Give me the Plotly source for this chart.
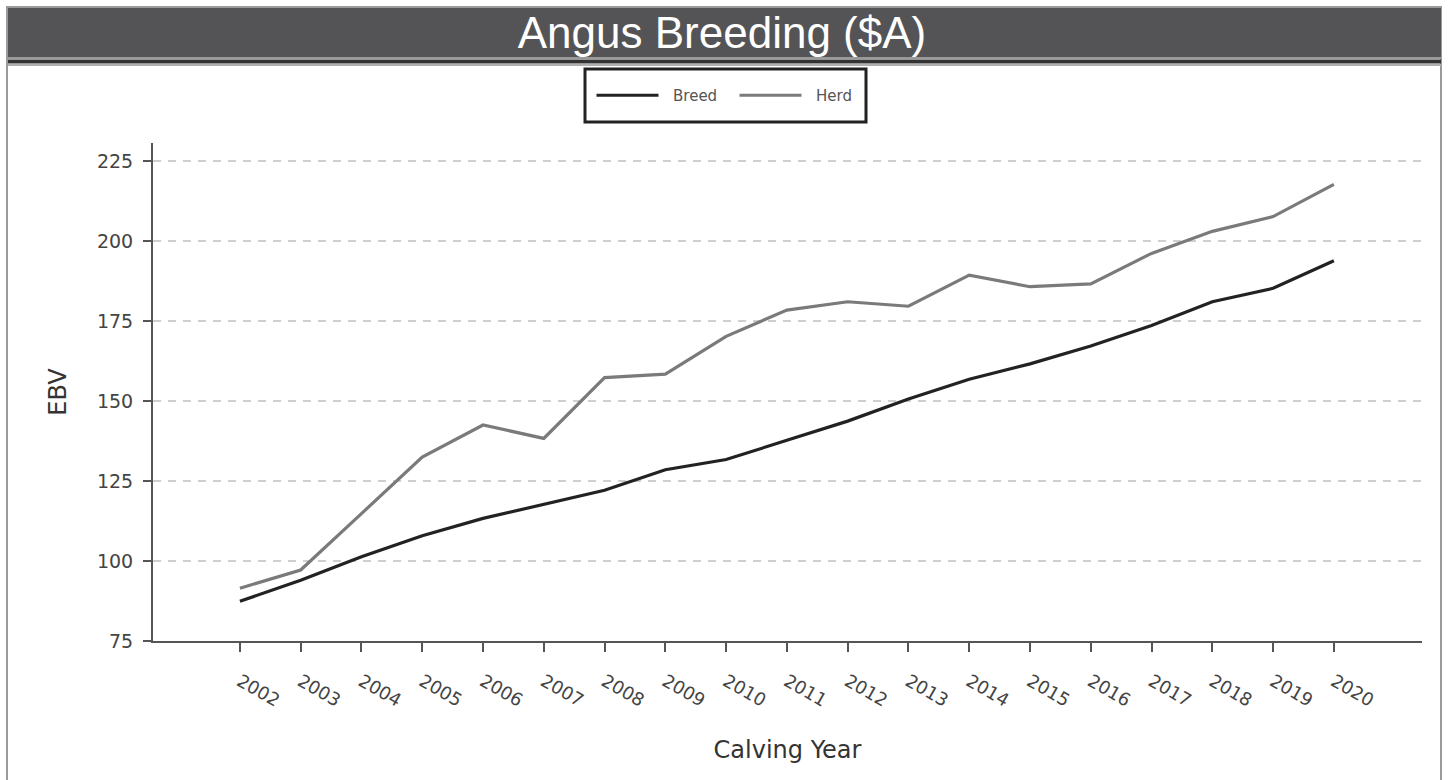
import plotly.graph_objects as go

years = list(range(2002, 2021))
breed = [87.4, 94.0, 101.3, 107.9, 113.3, 117.6, 122.1, 128.5, 131.7, 137.7,
         143.7, 150.6, 156.8, 161.6, 167.2, 173.6, 181.0, 185.2, 193.8]
herd = [91.5, 97.2, 114.8, 132.5, 142.5, 138.3, 157.3, 158.4, 170.2, 178.4,
        181.0, 179.6, 189.3, 185.7, 186.6, 196.1, 203.0, 207.6, 217.7]
y_ticks = [75, 100, 125, 150, 175, 200, 225]
title_text = "Angus Breeding ($A)"

W, H = 1450, 780
L, R, T, B = 153, 1422, 143, 641


def px(xp):
    return (xp - L) / (R - L)


def py(yp):
    return (B - yp) / (B - T)


fig = go.Figure()
fig.add_trace(go.Scatter(x=years, y=breed, mode="lines", name="\u00a0\u00a0Breed",
                         line=dict(color="#222222", width=3.2)))
fig.add_trace(go.Scatter(x=years, y=herd, mode="lines", name="\u00a0\u00a0Herd",
                         line=dict(color="#7a7a7a", width=3.2)))

shapes = [
    # outer frame
    dict(type="rect", xref="paper", yref="paper", x0=px(7), x1=px(1441), y0=py(800), y1=py(7),
         line=dict(color="#9a9a9a", width=2), fillcolor="rgba(0,0,0,0)", layer="below"),
    # title bar
    dict(type="rect", xref="paper", yref="paper", x0=px(8), x1=px(1441), y0=py(57), y1=py(8),
         line=dict(width=0), fillcolor="#545456", layer="below"),
    dict(type="line", xref="paper", yref="paper", x0=px(8), x1=px(1441), y0=py(58), y1=py(58),
         line=dict(color="#9a9a9a", width=2)),
    dict(type="line", xref="paper", yref="paper", x0=px(8), x1=px(1441), y0=py(61.5), y1=py(61.5),
         line=dict(color="#333333", width=4)),
    dict(type="line", xref="paper", yref="paper", x0=px(8), x1=px(1441), y0=py(65), y1=py(65),
         line=dict(color="#b0b0b0", width=2)),
    # legend frame
    dict(type="rect", xref="paper", yref="paper", x0=px(585), x1=px(866), y0=py(122), y1=py(69),
         line=dict(color="#222222", width=3), fillcolor="rgba(0,0,0,0)"),
]

fig.update_layout(
    width=W, height=H,
    margin=dict(l=L, r=W - R, t=T, b=H - B, pad=0),
    paper_bgcolor="white", plot_bgcolor="white",
    title=dict(text=title_text, x=722 / W, xanchor="center", y=1 - 33 / H, yanchor="middle",
               font=dict(family="Liberation Sans, Arial, sans-serif", size=44, color="white")),
    showlegend=True,
    legend=dict(orientation="h", x=px(734.5), xanchor="center", y=py(95.5), yanchor="middle",
                bgcolor="rgba(0,0,0,0)", borderwidth=0, itemwidth=62,
                entrywidth=66, entrywidthmode="pixels",
                font=dict(family="DejaVu Sans", size=15, color="#555555")),
    shapes=shapes,
    font=dict(family="DejaVu Sans"),
)

fig.update_xaxes(
    range=[2000.57, 2021.45], tickmode="array", tickvals=years, ticktext=[str(y) for y in years],
    tickangle=30, ticks="outside", ticklen=9, tickwidth=2, tickcolor="#555555",
    showline=True, linecolor="#555555", linewidth=2, showgrid=False, zeroline=False,
    tickfont=dict(family="DejaVu Sans", size=18, color="#444444"), ticklabelstandoff=12,
    title=dict(text="Calving Year", standoff=31, font=dict(family="DejaVu Sans", size=24, color="#333333")),
)
fig.update_yaxes(
    range=[75, 230.6], tickmode="array", tickvals=y_ticks,
    ticks="outside", ticklen=8, tickwidth=2, tickcolor="#555555",
    showline=True, linecolor="#555555", linewidth=2, zeroline=False,
    showgrid=True, gridcolor="#cfcfcf", gridwidth=2, griddash="8px,7px",
    tickfont=dict(family="DejaVu Sans", size=19, color="#444444"), ticklabelstandoff=6,
    title=dict(text="EBV", standoff=24, font=dict(family="DejaVu Sans", size=24, color="#333333")),
)

fig.write_html("out.html", config={"displayModeBar": False},
               post_script="document.body.style.margin='0';document.body.style.overflow='hidden';")
